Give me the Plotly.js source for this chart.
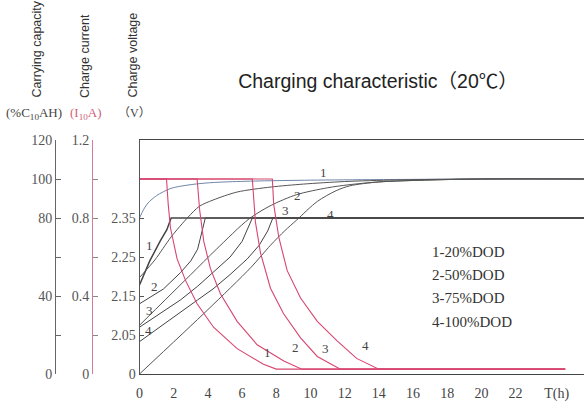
<!DOCTYPE html>
<html><head><meta charset="utf-8">
<script src="https://cdn.plot.ly/plotly-3.0.1.min.js"></script>
<style>html,body{margin:0;padding:0;background:#fff}#chart{width:584px;height:405px}</style>
</head><body><div id="chart"></div>
<script>
// ---------- data ----------
const dodLabels = ['1-20%DOD', '2-50%DOD', '3-75%DOD', '4-100%DOD'];
const curveIds = ['1', '2', '3', '4'];

const xTickVals = [0, 2, 4, 6, 8, 10, 12, 14, 16, 18, 20, 22, 24.4];
const xTickText = ['0', '2', '4', '6', '8', '10', '12', '14', '16', '18', '20', '22', 'T(h)'];

const capTickVals = [0, 20, 40, 60, 80, 100, 120];
const capTickText = ['0', '', '40', '', '80', '100', '120'];
const curTickVals = [0, 0.2, 0.4, 0.6, 0.8, 1.0, 1.2];
const curTickText = ['0', '', '0.4', '', '0.8', '', '1.2'];
const voltTickVals = [1.95, 2.05, 2.15, 2.25, 2.35];
const voltTickText = ['0', '2.05', '2.15', '2.25', '2.35'];

// Charge voltage (V)
const voltTime1 = [0, 0.6, 1.2, 1.6, 1.85, 26];
const volt1 = [2.178, 2.24, 2.29, 2.32, 2.35, 2.35];
const voltTime2 = [0, 1.4, 2.4, 3.0, 3.4, 3.85, 26];
const volt2 = [2.13, 2.168, 2.21, 2.24, 2.27, 2.35, 2.35];
const voltTime3 = [0, 1.2, 2.4, 3.4, 4.3, 5.3, 6.0, 6.6, 26];
const volt3 = [2.07, 2.105, 2.14, 2.175, 2.21, 2.25, 2.29, 2.35, 2.35];
const voltTime4 = [0, 1.2, 2.4, 3.4, 4.3, 5.3, 6.3, 7.0, 7.5, 7.8, 26];
const volt4 = [2.033, 2.07, 2.109, 2.14, 2.168, 2.205, 2.245, 2.28, 2.317, 2.35, 2.35];

// Charge current (I10 A)
const curTime1 = [0, 1.58, 1.68, 1.81, 2.2, 2.69, 3.37, 4.33, 5.71, 7.25, 8.0, 24.9];
const cur1 = [1.0, 1.0, 0.87, 0.75, 0.59, 0.48, 0.36, 0.24, 0.13, 0.05, 0.025, 0.025];
const curTime2 = [0, 3.37, 3.52, 3.76, 4.15, 4.74, 5.71, 6.88, 8.44, 9.5, 24.9];
const cur2 = [1.0, 1.0, 0.84, 0.68, 0.54, 0.41, 0.27, 0.15, 0.067, 0.025, 0.025];
const curTime3 = [0, 6.6, 6.78, 7.08, 7.66, 8.42, 9.42, 10.4, 11.75, 24.9];
const cur3 = [1.0, 1.0, 0.78, 0.62, 0.44, 0.31, 0.185, 0.09, 0.025, 0.025];
const curTime4 = [0, 7.77, 7.85, 8.15, 8.64, 9.42, 10.4, 11.56, 12.7, 14.0, 24.9];
const cur4 = [1.0, 1.0, 0.87, 0.70, 0.53, 0.39, 0.27, 0.17, 0.08, 0.025, 0.025];

// Carrying capacity (%C10AH)
const capTime1 = [0, 0.25, 0.5, 1.0, 1.84, 2.84, 3.83, 5.0, 7.0, 10, 14, 20, 26];
const cap1 = [80, 84.5, 87.7, 91.5, 95.2, 96.9, 97.9, 98.5, 99, 99.4, 99.7, 100, 100];
const capTime2 = [0, 0.9, 1.85, 2.85, 3.5, 4.3, 5.7, 7.7, 9.6, 12, 15, 20, 26];
const cap2 = [49.5, 58.5, 70.3, 80.5, 86, 89.2, 93.3, 95.9, 97.4, 98.7, 99.5, 100, 100];
const capTime3 = [0, 1.5, 3, 4.5, 6.4, 7.7, 9.2, 11, 12.2, 14, 17, 20, 26];
const cap3 = [25, 38, 51, 64, 79.5, 86.5, 92, 95.5, 97, 98.5, 99.5, 100, 100];
const capTime4 = [0, 4, 6.5, 7.66, 8.5, 9.2, 10.4, 11.5, 12.3, 14, 17, 20, 26];
const cap4 = [0, 33, 54.5, 66, 73.5, 79, 88.5, 94, 96.5, 98.5, 99.5, 100, 100];

// ---------- styling / layout ----------
const W = 584, H = 405, TOP = 140, BOT = 374, LEFT = 139.5;
const py = p => (BOT - p) / (BOT - TOP);
const px = p => p / W;
const RED = '#d8456f', GRAY = '#555555', DARK = '#444444', CAPBLUE = '#6f86a8';
const SERIF = 'Liberation Serif, DejaVu Serif, serif';
const SANS = 'Liberation Sans, Arial, Noto Sans CJK SC, sans-serif';

const volts = [[voltTime1, volt1], [voltTime2, volt2], [voltTime3, volt3], [voltTime4, volt4]];
const curs = [[curTime1, cur1], [curTime2, cur2], [curTime3, cur3], [curTime4, cur4]];
const caps = [[capTime1, cap1], [capTime2, cap2], [capTime3, cap3], [capTime4, cap4]];

const traces = [];
curs.forEach((c, i) => traces.push({x: c[0], y: c[1], yaxis: 'y3', mode: 'lines', name: 'I' + curveIds[i],
  line: {color: RED, width: 1.1}, hoverinfo: 'skip'}));
caps.forEach((c, i) => traces.push({x: c[0], y: c[1], yaxis: 'y2', mode: 'lines', name: 'C' + curveIds[i],
  line: {color: i === 0 ? CAPBLUE : GRAY, width: 1, shape: 'spline', smoothing: 0.8}, hoverinfo: 'skip'}));
volts.forEach((v, i) => traces.push({x: v[0], y: v[1], yaxis: 'y', mode: 'lines', name: 'V' + curveIds[i],
  line: {color: DARK, width: i === 0 ? 1.5 : 1}, hoverinfo: 'skip'}));

const ann = [];
const lab = (t, c, txt) => ann.push({x: t, y: c, xref: 'x', yref: 'y2', text: txt, showarrow: false,
  xanchor: 'center', yanchor: 'middle', font: {family: SERIF, size: 13, color: '#444'}});
// capacity labels (top), voltage labels (left), current labels (bottom)
[[10.75, 103.5], [9.24, 91.3], [8.54, 84], [11.17, 82]].forEach((p, i) => lab(p[0], p[1], curveIds[i]));
[[0.61, 66], [0.85, 45], [0.61, 32.5], [0.5, 22.5]].forEach((p, i) => lab(p[0], p[1], curveIds[i]));
[[7.5, 11], [9.15, 13.5], [10.9, 13], [13.2, 14.5]].forEach((p, i) => lab(p[0], p[1], curveIds[i]));

// legend block
[252, 275, 298, 322].forEach((p, i) => ann.push({x: px(430), y: py(p), xref: 'paper', yref: 'paper',
  xanchor: 'left', yanchor: 'middle', text: dodLabels[i], showarrow: false,
  font: {family: SERIF, size: 15, color: '#333'}}));

// axis titles (rotated)
[['Carrying capacity', 37], ['Charge current', 85], ['Charge voltage', 133]].forEach(a => ann.push({
  x: px(a[1]), y: py(100), xref: 'paper', yref: 'paper', xanchor: 'center', yanchor: 'bottom',
  textangle: -90, text: a[0], showarrow: false, font: {family: SANS, size: 12.5, color: '#333'}}));
// units
ann.push({x: px(34), y: py(113), xref: 'paper', yref: 'paper', xanchor: 'center', yanchor: 'middle',
  text: '(%C<sub>10</sub>AH)', showarrow: false, font: {family: SERIF, size: 13, color: '#444'}});
ann.push({x: px(85), y: py(113), xref: 'paper', yref: 'paper', xanchor: 'center', yanchor: 'middle',
  text: '(I<sub>10</sub>A)', showarrow: false, font: {family: SERIF, size: 13, color: '#d0607a'}});
ann.push({x: px(134), y: py(113), xref: 'paper', yref: 'paper', xanchor: 'center', yanchor: 'middle',
  text: '（V）', showarrow: false, font: {family: 'Liberation Serif, Noto Sans CJK SC', size: 12, color: '#444'}});

const layout = {
  width: W, height: H,
  margin: {l: 0, r: 0, t: TOP, b: H - BOT, pad: 0},
  paper_bgcolor: '#fff', plot_bgcolor: '#fff',
  showlegend: false,
  title: {text: 'Charging characteristic（20℃）', x: 378 / W, xanchor: 'center', xref: 'container',
    y: 1 - 81 / H, yanchor: 'middle', yref: 'container', font: {family: SANS, size: 19.5, color: '#222'}},
  xaxis: {domain: [LEFT / W, 1], range: [0, 26], showgrid: false, zeroline: false,
    showline: true, mirror: true, linecolor: '#444', linewidth: 1.2,
    tickvals: xTickVals, ticktext: xTickText, ticks: '', ticklabelstandoff: 6,
    tickfont: {family: SERIF, size: 14, color: '#444'}, automargin: false},
  yaxis: {range: [1.95, 2.55], showgrid: false, zeroline: false, showline: true, linecolor: '#555',
    ticks: 'inside', ticklen: 4, tickcolor: '#555', tickvals: voltTickVals, ticktext: voltTickText,
    tickfont: {family: SERIF, size: 14, color: '#555'}, automargin: false},
  yaxis2: {range: [0, 120], overlaying: 'y', anchor: 'free', position: px(55), side: 'left',
    showgrid: false, zeroline: false, showline: true, linecolor: '#666', ticks: 'inside', ticklen: 5,
    tickcolor: '#666', tickvals: capTickVals, ticktext: capTickText,
    tickfont: {family: SERIF, size: 14, color: '#555'}, automargin: false},
  yaxis3: {range: [0, 1.2], overlaying: 'y', anchor: 'free', position: px(92), side: 'left',
    showgrid: false, zeroline: false, showline: true, linecolor: '#d87a92', ticks: 'inside', ticklen: 5,
    tickcolor: '#888', tickvals: curTickVals, ticktext: curTickText,
    tickfont: {family: SERIF, size: 14, color: '#555'}, automargin: false},
  annotations: ann
};

Plotly.newPlot('chart', traces, layout, {staticPlot: true, displayModeBar: false});
</script></body></html>
